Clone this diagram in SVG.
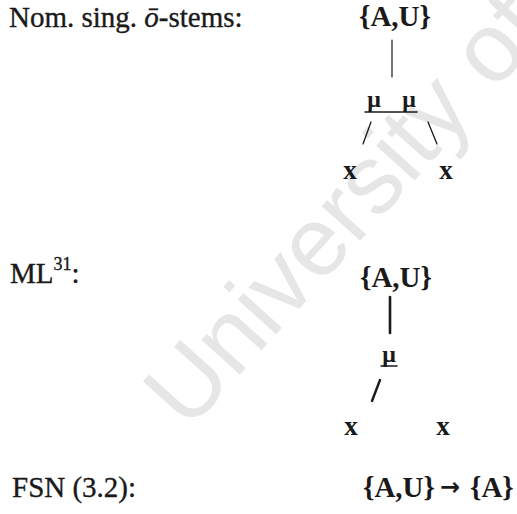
<svg xmlns="http://www.w3.org/2000/svg" width="517" height="514" viewBox="0 0 517 514">
<style>
.lbl{font-family:"Liberation Serif","Times New Roman",serif;font-size:29px;fill:#1a1a1a;stroke:#1a1a1a;stroke-width:0.35px}
.b{font-family:"Liberation Serif","Times New Roman",serif;font-weight:bold;fill:#1a1a1a}
.set{font-size:29px}
.mu{font-size:24px}
.x{font-size:27px}
.arr{font-family:"DejaVu Sans",sans-serif;font-weight:bold;font-size:24px;fill:#1a1a1a}
.ln{stroke:#1a1a1a;stroke-linecap:round;fill:none}
.wm{font-family:"Liberation Sans",Arial,sans-serif;font-size:98px;fill:#e6e6e6}
</style>
<rect width="517" height="514" fill="#ffffff"/>
<text class="wm" transform="translate(188,432) rotate(-48)">University of</text>
<g id="label-nom"><text class="lbl" x="9" y="27">Nom. sing. <tspan font-style="italic">ō</tspan>-stems:</text></g>
<g id="t1-set"><text class="b set" x="395" y="26" text-anchor="middle">{A,U}</text></g>
<g id="t1-mu"><text class="b mu" x="374" y="107" text-anchor="middle">μ</text><text class="b mu" x="409" y="107" text-anchor="middle">μ</text></g>
<g id="t1-x1"><text class="b x" x="350" y="179" text-anchor="middle">x</text></g>
<g id="t1-x2"><text class="b x" x="446" y="179" text-anchor="middle">x</text></g>
<g id="label-ml"><text class="lbl" x="10" y="283">ML<tspan font-size="18" dy="-13">31</tspan><tspan dy="13">:</tspan></text></g>
<g id="t2-set"><text class="b set" x="396" y="287" text-anchor="middle">{A,U}</text></g>
<g id="t2-mu"><text class="b mu" x="389" y="362" text-anchor="middle">μ</text></g>
<g id="t2-x1"><text class="b x" x="351" y="435" text-anchor="middle">x</text></g>
<g id="t2-x2"><text class="b x" x="443" y="435" text-anchor="middle">x</text></g>
<g id="label-fsn"><text class="lbl" x="12" y="497">FSN (3.2):</text></g>
<g id="fsn-rule"><text class="b set" x="363" y="497">{A,U}</text><text class="arr" x="440" y="495">→</text><text class="b set" x="470" y="497">{A}</text></g>
<g id="connectors">
<line class="ln" x1="392" y1="40" x2="392" y2="77" stroke-width="1.2"/>
<line class="ln" x1="365" y1="112" x2="417" y2="112" stroke-width="1.5"/>
<line class="ln" x1="371" y1="122" x2="363" y2="144" stroke-width="1.3"/>
<line class="ln" x1="428" y1="122" x2="437" y2="144" stroke-width="1.3"/>
<line class="ln" x1="390" y1="297" x2="390" y2="333" stroke-width="2.6"/>
<line class="ln" x1="381" y1="366" x2="397" y2="366" stroke-width="1.5"/>
<line class="ln" x1="380" y1="380" x2="372" y2="401" stroke-width="2.4"/>
</g>
</svg>
